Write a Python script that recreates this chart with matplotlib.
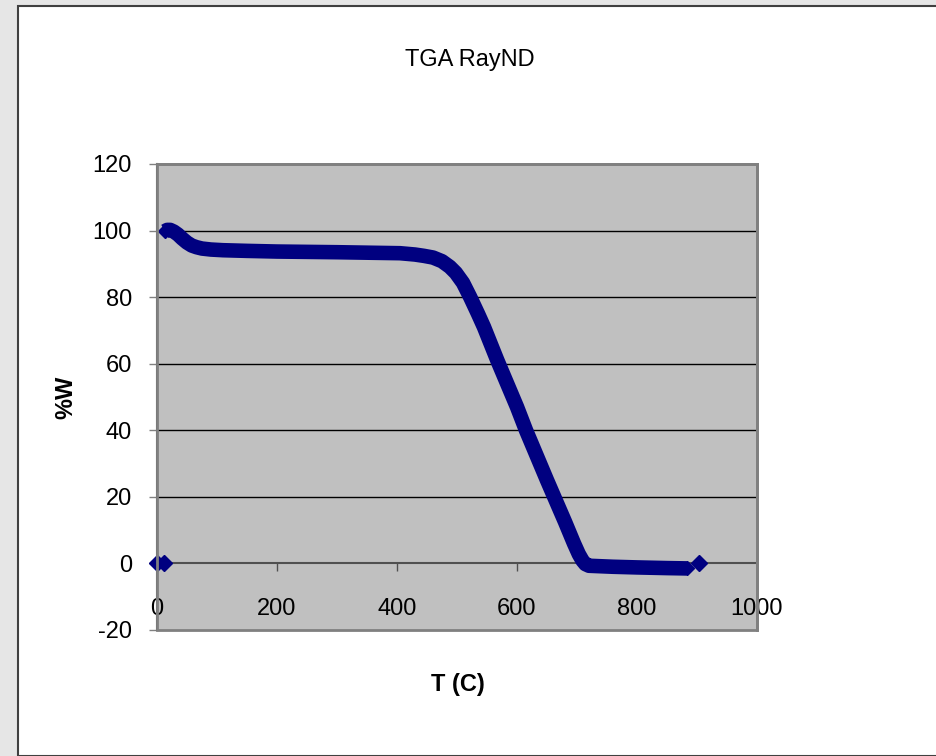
import matplotlib
matplotlib.use('Agg')
import matplotlib.pyplot as plt
from matplotlib.patches import Rectangle

plt.rcParams['font.family'] = ['Liberation Sans', 'DejaVu Sans']
plt.rcParams['axes.unicode_minus'] = False

# TGA curve: temperature (C) and remaining weight (%)
temp = [13, 17, 22, 28, 35, 42, 50, 58, 66, 75, 90, 110, 150, 200, 300, 405, 430,
        445, 460, 475, 488, 498, 510, 522, 535, 545, 567, 600, 615, 650, 680,
        695, 703, 709, 714, 720, 760, 800, 850, 883]
weight = [99.8, 100.2, 100.2, 99.7, 98.8, 97.6, 96.4, 95.5, 95.0, 94.6, 94.3,
          94.1, 93.9, 93.7, 93.5, 93.2, 92.8, 92.4, 91.9, 90.8, 89.1, 87.3, 84.3,
          80.0, 75.0, 71.0, 61.1, 47.0, 40.0, 25.0, 12.5, 6.0, 2.8, 0.9, -0.2,
          -0.7, -1.0, -1.2, -1.4, -1.5]
# stray zero readings at start and end of the run
zeroT = [0, 12, 903]
zeroW = [0, 0, 0]

fig = plt.figure(figsize=(9.37, 7.56), dpi=100)
fig.patch.set_facecolor('#e6e6e6')

# white chart area with dark frame
W, H = 937, 756
fig.patches.append(Rectangle((18 / W, 0), 1.0, 1 - 6 / H, transform=fig.transFigure,
                             facecolor='white', edgecolor='#404040', linewidth=1.5,
                             zorder=-1))

ax = fig.add_axes([157 / W, 1 - 630 / H, 600 / W, 466 / H])
ax.set_zorder(1)
ax.set_facecolor('#c0c0c0')
ax.set_xlim(0, 1000)
ax.set_ylim(-20, 120)
ax.set_xticks(range(0, 1001, 200))
ax.set_yticks(range(-20, 121, 20))

for y in range(20, 120, 20):
    ax.axhline(y, color='black', lw=1.0, zorder=1)

ax.plot(temp, weight, color='#000080', lw=10.5, solid_capstyle='butt',
        solid_joinstyle='round', zorder=3)
ax.plot([temp[0], temp[-1]], [weight[0], weight[-1]], 'D', color='#000080',
        markersize=7.5, zorder=3)
ax.plot(zeroT, zeroW, 'D', color='#000080', markersize=8, zorder=4, clip_on=False)

for s in ['top', 'right']:
    ax.spines[s].set_color('#808080')
    ax.spines[s].set_linewidth(2)
ax.spines['left'].set_color('#505050')
ax.spines['left'].set_linewidth(1.5)
ax.spines['bottom'].set_position(('data', 0))
ax.spines['bottom'].set_color('#505050')
ax.spines['bottom'].set_linewidth(1.5)
ax.spines['bottom'].set_zorder(2)
# lower edge of the plot area
ax.add_patch(Rectangle((0, 0), 1, 1, transform=ax.transAxes, fill=False,
                       edgecolor='#808080', linewidth=2, zorder=5, clip_on=False))

ax.tick_params(axis='x', direction='out', length=6, width=1, color='#505050',
               labelsize=17, pad=19)
ax.tick_params(axis='y', direction='out', length=6, width=1, color='#808080',
               labelsize=17, pad=12)

fig.text(470 / W, 1 - 60 / H, 'TGA RayND', ha='center', va='center', fontsize=17)
fig.text(66 / W, 1 - 397 / H, '%W', ha='center', va='center', rotation=90,
         fontsize=17, fontweight='bold')
fig.text(458 / W, 1 - 685 / H, 'T (C)', ha='center', va='center', fontsize=17,
         fontweight='bold')

fig.savefig('out.png', dpi=100, facecolor=fig.get_facecolor())
